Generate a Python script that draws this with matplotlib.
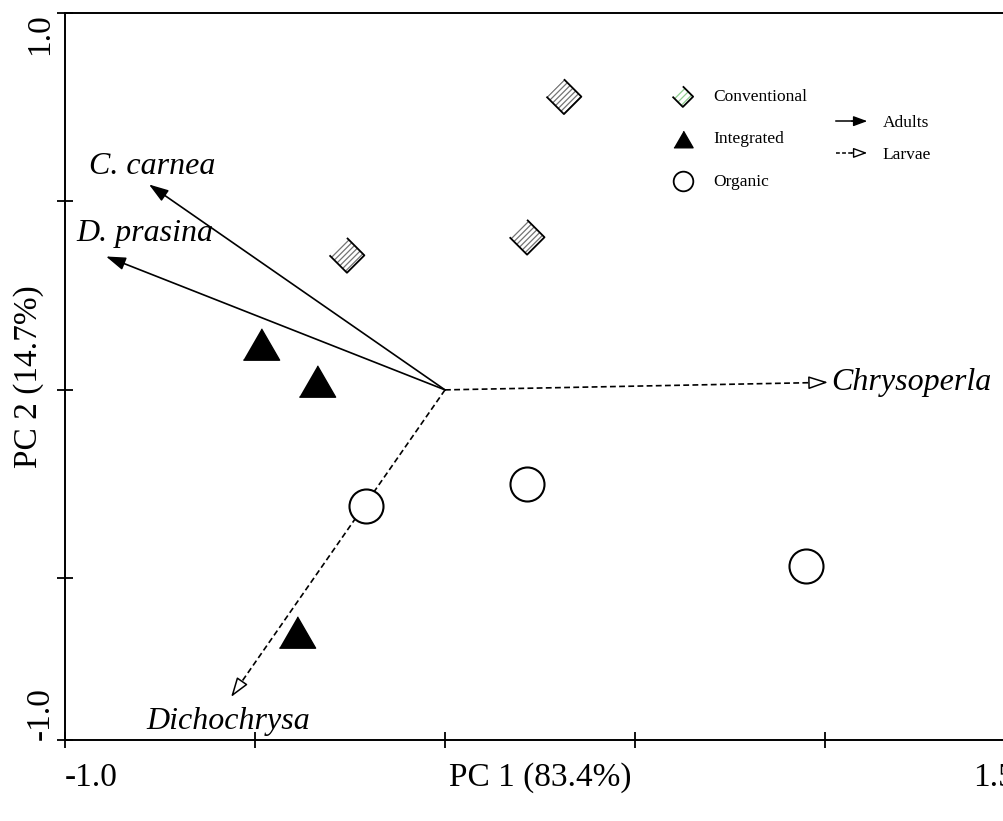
import matplotlib
matplotlib.use("Agg")
import matplotlib.pyplot as plt
from matplotlib.lines import Line2D
from matplotlib.patches import FancyArrowPatch
from matplotlib.legend_handler import HandlerBase, HandlerTuple

plt.rcParams['font.family'] = ['Liberation Serif', 'DejaVu Serif']

# PCA scores (PC1, PC2)
conv_x = [0.313, -0.258, 0.216]
conv_y = [0.778, 0.357, 0.405]
integ_x = [-0.484, -0.337, -0.389]
integ_y = [0.122, 0.024, -0.643]
org_x = [-0.208, 0.216, 0.950]
org_y = [-0.307, -0.251, -0.466]

# loadings
species = ["C. carnea", "D. prasina", "Chrysoperla", "Dichochrysa"]
load_x = [-0.779, -0.892, 1.008, -0.563]
load_y = [0.545, 0.354, 0.020, -0.815]
stage = ["Adults", "Adults", "Larvae", "Larvae"]
label_x = [-0.937, -0.971, 1.016, -0.787]
label_y = [0.593, 0.415, 0.019, -0.881]

# the original y axis stops a little short of -1.0 but is labelled -1.0
y_bottom = -0.929
yticks = [y_bottom, -0.5, 0.0, 0.5, 1.0]
ytick_labels = ['-1.0', '', '', '', '1.0']
xticks = [-1.0, -0.5, 0.0, 0.5, 1.0, 1.5]
xtick_labels = ['-1.0', '', '', '', '', '1.5']

diamond = [(0, 1), (1, 0), (0, -1), (-1, 0)]
triangle = [(-1, -0.866), (1, -0.866), (0, 0.866)]

fig = plt.figure(figsize=(10.04, 8.21), dpi=100)
ax = fig.add_axes([65 / 1004, 1 - 740 / 821, 950 / 1004, 727 / 821])
ax.set_xlim(-1.0, 1.5)
ax.set_ylim(y_bottom, 1.0)

# groups
with plt.rc_context({'hatch.color': '0.45', 'hatch.linewidth': 0.9}):
    ax.scatter(conv_x, conv_y, marker=diamond, s=630, facecolor='white',
               edgecolor='0.45', linewidths=0, hatch='//////', zorder=3)
ax.scatter(conv_x, conv_y, marker=diamond, s=630, facecolor='none',
           edgecolor='black', linewidths=1.3, zorder=4)
ax.scatter(integ_x, integ_y, marker=triangle, s=680, color='black', zorder=3)
ax.scatter(org_x, org_y, marker='o', s=600, facecolor='white',
           edgecolor='black', linewidths=1.5, zorder=3)


def head(x, y, fc):
    d = (x ** 2 + y ** 2) ** 0.5
    ax.annotate('', xy=(x, y), xytext=(x - 0.03 * x / d, y - 0.03 * y / d),
                arrowprops=dict(arrowstyle='-|>,head_length=0.6,head_width=0.2',
                                mutation_scale=20, fc=fc, ec='black', lw=1.1,
                                shrinkA=0, shrinkB=0), zorder=2)


for name, x, y, st, tx, ty in zip(species, load_x, load_y, stage, label_x, label_y):
    d = (x ** 2 + y ** 2) ** 0.5
    if st == "Adults":
        ax.plot([0, x - 0.02 * x / d], [0, y - 0.02 * y / d], color='black', lw=1.2, zorder=2)
        head(x, y, 'black')
    else:
        ax.plot([0, x - 0.02 * x / d], [0, y - 0.02 * y / d], color='black', lw=1.2,
                ls=(0, (3.5, 2)), zorder=2)
        head(x, y, 'white')
    ax.text(tx, ty, name, fontsize=23, style='italic', ha='left', va='center')

# axes styling
for s in ['left', 'bottom', 'top']:
    ax.spines[s].set_linewidth(1.4)
ax.spines['right'].set_visible(False)
ax.set_xticks(xticks)
ax.set_xticklabels(xtick_labels, fontsize=24)
ax.set_yticks(yticks)
ax.set_yticklabels(ytick_labels, fontsize=24, rotation=90)
ax.tick_params(direction='inout', length=12, width=1.3)
ax.tick_params(axis='x', pad=10)
ax.tick_params(axis='y', pad=1)
xl = ax.get_xticklabels()
xl[0].set_ha('left')
xl[-1].set_ha('right')
yl = ax.get_yticklabels()
yl[0].set_va('bottom')
yl[-1].set_va('top')
ax.set_xlabel("PC 1 (83.4%)", fontsize=24)
ax.set_ylabel("PC 2 (14.7%)", fontsize=24)
ax.xaxis.set_label_coords(0.5, -0.030)
ax.yaxis.set_label_coords(-0.0221, 0.5)


# legends
class ArrowHandler(HandlerBase):
    def create_artists(self, legend, orig_handle, xdescent, ydescent,
                       width, height, fontsize, trans):
        y = height / 2 - ydescent
        dashed = orig_handle.get_linestyle() != '-'
        line = Line2D([-xdescent, -xdescent + width * 0.6], [y, y], color='black',
                      lw=1.1, ls=(0, (2.5, 1.5)) if dashed else '-', transform=trans)
        arr = FancyArrowPatch((-xdescent + width * 0.5, y), (-xdescent + width, y),
                              arrowstyle='-|>,head_length=0.6,head_width=0.22',
                              mutation_scale=14, fc='white' if dashed else 'black',
                              ec='black', lw=1.0, shrinkA=0, shrinkB=0, transform=trans)
        return [line, arr]


with plt.rc_context({'hatch.color': '#8fcf8f', 'hatch.linewidth': 0.9}):
    p_conv = ax.scatter([], [], marker=diamond, s=220, facecolor='white',
                        edgecolor='#8fcf8f', linewidths=0, hatch='/////')
    p_conv2 = ax.scatter([], [], marker=diamond, s=220, facecolor='none',
                         edgecolor='black', linewidths=1.3)
    p_int = ax.scatter([], [], marker=triangle, s=190, color='black')
    p_org = ax.scatter([], [], marker='o', s=200, facecolor='white',
                       edgecolor='black', linewidths=1.3)
    leg1 = ax.legend([(p_conv, p_conv2), p_int, p_org], ["Conventional", "Integrated", "Organic"],
                     handler_map={tuple: HandlerTuple(ndivide=1)},
                     loc='upper left', bbox_to_anchor=(0.633, 0.8954), frameon=False,
                     fontsize=12.5, borderpad=0, borderaxespad=0, handlelength=1.9,
                     handletextpad=0.8, labelspacing=1.5, scatterpoints=1)
ax.add_artist(leg1)

h_ad = Line2D([], [], color='black', ls='-')
h_la = Line2D([], [], color='black', ls='--')
ax.legend([h_ad, h_la], ["Adults", "Larvae"], handler_map={Line2D: ArrowHandler()},
          loc='upper left', bbox_to_anchor=(0.8116, 0.8596), frameon=False,
          fontsize=12.5, borderpad=0, borderaxespad=0, handlelength=1.8,
          handletextpad=0.9, labelspacing=0.9)

fig.savefig("out.png", dpi=100)
